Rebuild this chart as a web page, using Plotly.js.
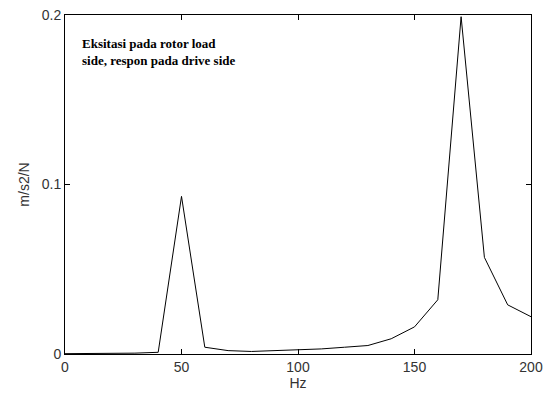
<!DOCTYPE html>
<html>
<head>
<meta charset="utf-8">
<script src="https://cdn.plot.ly/plotly-3.0.1.min.js"></script>
<style>html,body{margin:0;padding:0;background:#fff;}#chart{width:550px;height:401px;}</style>
</head>
<body>
<div id="chart"></div>
<script>
var freqHz = [0, 10, 20, 30, 40, 50, 60, 70, 80, 90, 100, 110, 120, 130, 140, 150, 160, 170, 180, 190, 200];
var response = [0.0002, 0.0003, 0.0003, 0.0005, 0.001, 0.093, 0.004, 0.002, 0.0015, 0.002, 0.0022, 0.003, 0.004, 0.005, 0.009, 0.016, 0.032, 0.199, 0.057, 0.029, 0.022];
var xTicks = [0, 50, 100, 150, 200];
var yTicks = [0, 0.1, 0.2];
var yTickText = ['0', '0.1', '0.2'];
var noteText = 'Eksitasi pada rotor load<br>side, respon pada drive side';

var trace = {
  x: freqHz, y: response, type: 'scatter', mode: 'lines',
  line: {color: '#000', width: 1}, hoverinfo: 'skip'
};
var axisCommon = {
  showline: true, mirror: 'ticks', linecolor: '#000', linewidth: 1,
  ticks: 'inside', ticklen: 5, tickcolor: '#000', showgrid: false, zeroline: false,
  tickfont: {family: 'Liberation Sans, Arial, sans-serif', size: 14, color: '#333'}
};
var layout = {
  width: 550, height: 401,
  margin: {l: 65, r: 19, t: 15, b: 47},
  paper_bgcolor: '#fff', plot_bgcolor: '#fff',
  showlegend: false,
  xaxis: Object.assign({}, axisCommon, {
    range: [0, 200], tickvals: xTicks,
    title: {text: 'Hz', font: {family: 'Liberation Sans, Arial, sans-serif', size: 14, color: '#333'}, standoff: 4}
  }),
  yaxis: Object.assign({}, axisCommon, {
    range: [0, 0.2], tickvals: yTicks, ticktext: yTickText,
    title: {text: 'm/s2/N', font: {family: 'Liberation Sans, Arial, sans-serif', size: 14, color: '#333'}, standoff: 8}
  }),
  annotations: [{
    xref: 'paper', yref: 'paper', x: 0.033, y: 0.945, xanchor: 'left', yanchor: 'top',
    text: '<b>' + noteText + '</b>', showarrow: false, align: 'left',
    font: {family: 'Liberation Serif, Times New Roman, serif', size: 13, color: '#000'}
  }]
};
Plotly.newPlot('chart', [trace], layout, {staticPlot: true, displayModeBar: false});
</script>
</body>
</html>
